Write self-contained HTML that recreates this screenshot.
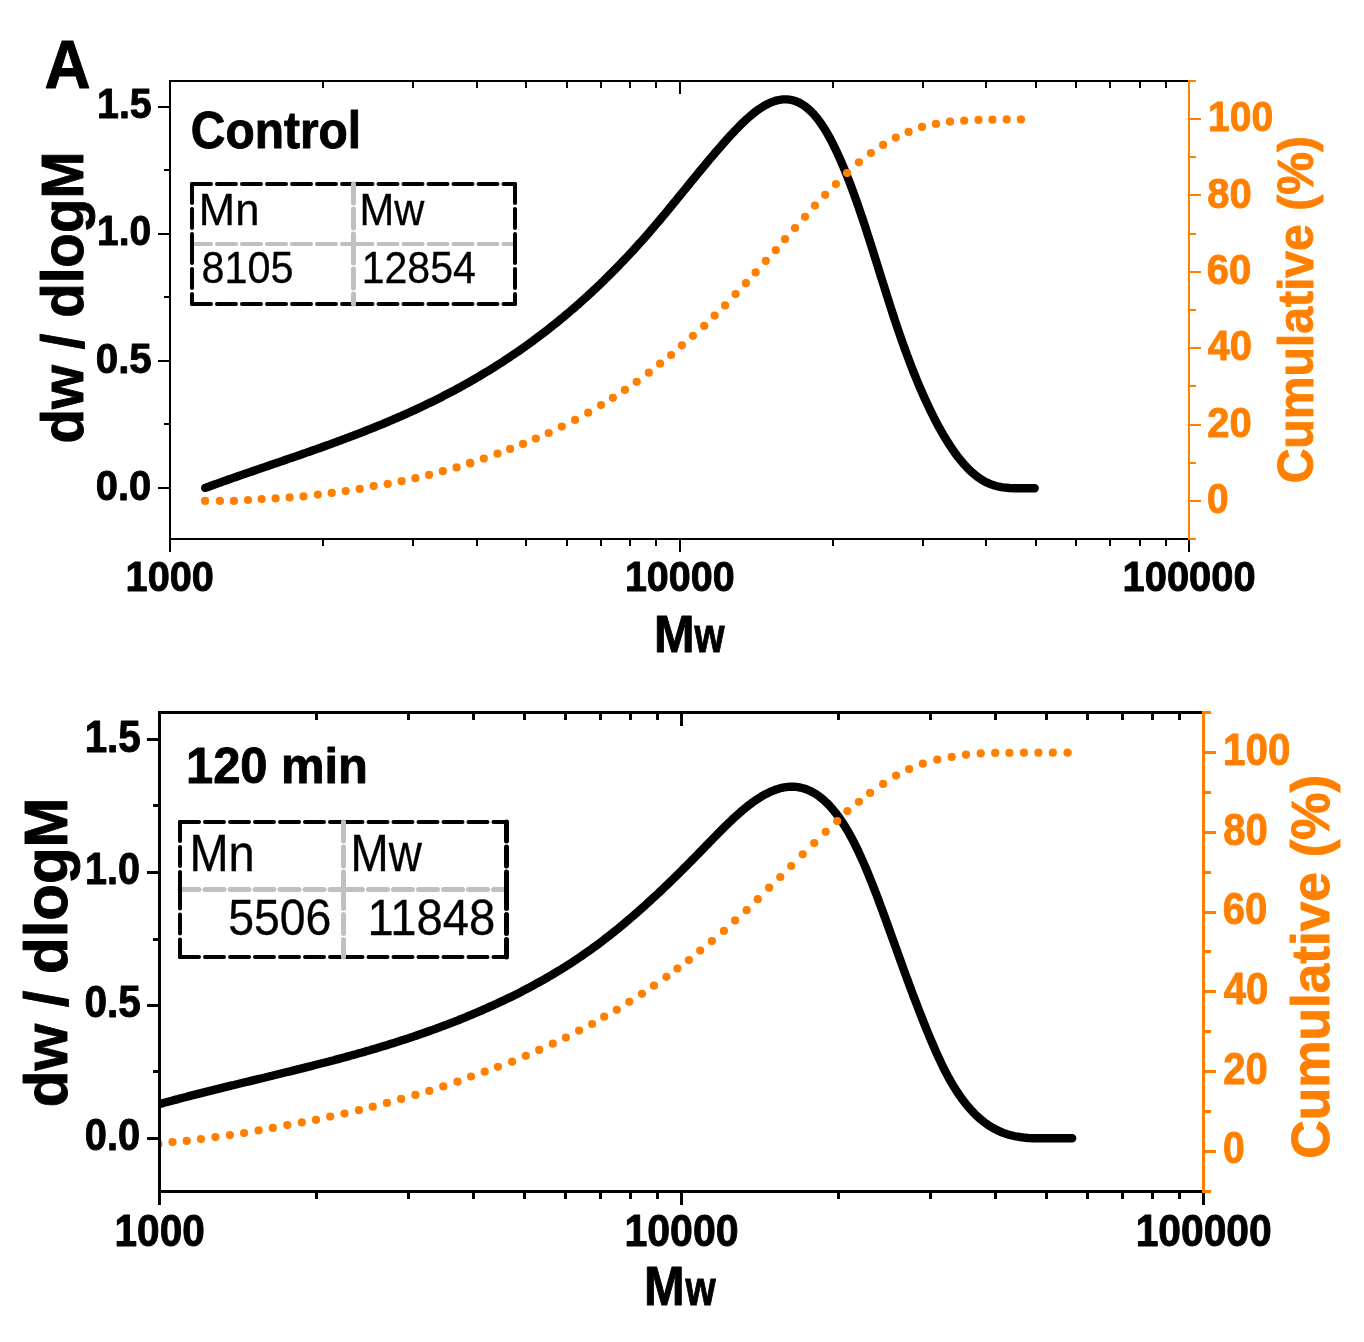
<!DOCTYPE html>
<html><head><meta charset="utf-8"><title>GPC molecular weight distribution</title>
<style>html,body{margin:0;padding:0;background:#fff}svg{display:block}text{font-family:"Liberation Sans",Arial,Helvetica,sans-serif;font-size:100px}</style></head><body>
<svg width="1364" height="1342" viewBox="0 0 1364 1342">
<rect width="1364" height="1342" fill="#fff"/>
<clipPath id="tc"><rect x="170" y="81" width="1019" height="458"/></clipPath>
<g clip-path="url(#tc)">
<path d="M205.2,487.9 L207.2,487.2 L209.2,486.5 L211.2,485.7 L213.2,485.0 L215.2,484.3 L217.2,483.6 L219.2,482.9 L221.2,482.2 L223.2,481.4 L225.2,480.7 L227.2,480.0 L229.2,479.3 L231.2,478.6 L233.2,477.9 L235.2,477.2 L237.2,476.5 L239.2,475.8 L241.2,475.1 L243.2,474.4 L245.2,473.7 L247.2,473.1 L249.2,472.4 L251.2,471.7 L253.2,471.0 L255.2,470.3 L257.2,469.6 L259.2,468.9 L261.2,468.2 L263.2,467.6 L265.2,466.9 L267.2,466.2 L269.2,465.5 L271.2,464.8 L273.2,464.1 L275.2,463.5 L277.2,462.8 L279.2,462.1 L281.2,461.4 L283.2,460.7 L285.2,460.0 L287.2,459.3 L289.2,458.6 L291.2,458.0 L293.2,457.3 L295.2,456.6 L297.2,455.9 L299.2,455.2 L301.2,454.5 L303.2,453.8 L305.2,453.1 L307.2,452.4 L309.2,451.7 L311.2,451.0 L313.2,450.3 L315.2,449.6 L317.2,448.9 L319.2,448.2 L321.2,447.5 L323.2,446.7 L325.2,446.0 L327.2,445.3 L329.2,444.6 L331.2,443.9 L333.2,443.1 L335.2,442.4 L337.2,441.7 L339.2,440.9 L341.2,440.2 L343.2,439.4 L345.2,438.7 L347.2,437.9 L349.2,437.2 L351.2,436.4 L353.2,435.7 L355.2,434.9 L357.2,434.1 L359.2,433.4 L361.2,432.6 L363.2,431.8 L365.2,431.0 L367.2,430.2 L369.2,429.4 L371.2,428.6 L373.2,427.8 L375.2,427.0 L377.2,426.2 L379.2,425.4 L381.2,424.6 L383.2,423.8 L385.2,422.9 L387.2,422.1 L389.2,421.2 L391.2,420.4 L393.2,419.5 L395.2,418.7 L397.2,417.8 L399.2,416.9 L401.2,416.1 L403.2,415.2 L405.2,414.3 L407.2,413.4 L409.2,412.5 L411.2,411.6 L413.2,410.7 L415.2,409.8 L417.2,408.8 L419.2,407.9 L421.2,407.0 L423.2,406.0 L425.2,405.1 L427.2,404.1 L429.2,403.1 L431.2,402.2 L433.2,401.2 L435.2,400.2 L437.2,399.2 L439.2,398.2 L441.2,397.2 L443.2,396.1 L445.2,395.1 L447.2,394.1 L449.2,393.0 L451.2,392.0 L453.2,390.9 L455.2,389.9 L457.2,388.8 L459.2,387.7 L461.2,386.6 L463.2,385.5 L465.2,384.4 L467.2,383.3 L469.2,382.1 L471.2,381.0 L473.2,379.8 L475.2,378.7 L477.2,377.5 L479.2,376.3 L481.2,375.1 L483.2,373.9 L485.2,372.7 L487.2,371.5 L489.2,370.3 L491.2,369.1 L493.2,367.8 L495.2,366.6 L497.2,365.3 L499.2,364.0 L501.2,362.7 L503.2,361.4 L505.2,360.1 L507.2,358.8 L509.2,357.5 L511.2,356.1 L513.2,354.8 L515.2,353.4 L517.2,352.1 L519.2,350.7 L521.2,349.3 L523.2,347.9 L525.2,346.5 L527.2,345.0 L529.2,343.6 L531.2,342.1 L533.2,340.7 L535.2,339.2 L537.2,337.7 L539.2,336.2 L541.2,334.7 L543.2,333.2 L545.2,331.6 L547.2,330.1 L549.2,328.5 L551.2,326.9 L553.2,325.3 L555.2,323.7 L557.2,322.1 L559.2,320.5 L561.2,318.8 L563.2,317.2 L565.2,315.5 L567.2,313.8 L569.2,312.1 L571.2,310.4 L573.2,308.7 L575.2,307.0 L577.2,305.2 L579.2,303.5 L581.2,301.7 L583.2,299.9 L585.2,298.1 L587.2,296.3 L589.2,294.4 L591.2,292.6 L593.2,290.7 L595.2,288.9 L597.2,287.0 L599.2,285.1 L601.2,283.1 L603.2,281.2 L605.2,279.2 L607.2,277.3 L609.2,275.3 L611.2,273.3 L613.2,271.3 L615.2,269.3 L617.2,267.2 L619.2,265.2 L621.2,263.1 L623.2,261.0 L625.2,258.9 L627.2,256.8 L629.2,254.7 L631.2,252.5 L633.2,250.3 L635.2,248.1 L637.2,245.9 L639.2,243.7 L641.2,241.5 L643.2,239.3 L645.2,237.0 L647.2,234.7 L649.2,232.4 L651.2,230.1 L653.2,227.8 L655.2,225.4 L657.2,223.1 L659.2,220.7 L661.2,218.3 L663.2,215.9 L665.2,213.5 L667.2,211.1 L669.2,208.6 L671.2,206.2 L673.2,203.8 L675.2,201.3 L677.2,198.9 L679.2,196.4 L681.2,194.0 L683.2,191.5 L685.2,189.1 L687.2,186.6 L689.2,184.2 L691.2,181.7 L693.2,179.3 L695.2,176.8 L697.2,174.4 L699.2,171.9 L701.2,169.5 L703.2,167.1 L705.2,164.7 L707.2,162.3 L709.2,159.9 L711.2,157.5 L713.2,155.2 L715.2,152.8 L717.2,150.5 L719.2,148.2 L721.2,145.9 L723.2,143.6 L725.2,141.4 L727.2,139.1 L729.2,136.9 L731.2,134.7 L733.2,132.6 L735.2,130.4 L737.2,128.4 L739.2,126.3 L741.2,124.3 L743.2,122.4 L745.2,120.5 L747.2,118.6 L749.2,116.9 L751.2,115.2 L753.2,113.5 L755.2,111.9 L757.2,110.4 L759.2,109.0 L761.2,107.7 L763.2,106.4 L765.2,105.3 L767.2,104.2 L769.2,103.2 L771.2,102.4 L773.2,101.6 L775.2,100.9 L777.2,100.4 L779.2,100.0 L781.2,99.6 L783.2,99.4 L785.2,99.4 L787.2,99.4 L789.2,99.6 L791.2,100.0 L793.2,100.4 L795.2,101.0 L797.2,101.8 L799.2,102.7 L801.2,103.8 L803.2,105.0 L805.2,106.4 L807.2,108.0 L809.2,109.7 L811.2,111.6 L813.2,113.6 L815.2,115.9 L817.2,118.3 L819.2,121.0 L821.2,123.8 L823.2,126.8 L825.2,130.0 L827.2,133.3 L829.2,136.9 L831.2,140.6 L833.2,144.5 L835.2,148.6 L837.2,152.8 L839.2,157.2 L841.2,161.7 L843.2,166.4 L845.2,171.2 L847.2,176.2 L849.2,181.3 L851.2,186.6 L853.2,192.0 L855.2,197.5 L857.2,203.1 L859.2,208.9 L861.2,214.8 L863.2,220.7 L865.2,226.8 L867.2,233.0 L869.2,239.2 L871.2,245.5 L873.2,251.8 L875.2,258.2 L877.2,264.6 L879.2,271.0 L881.2,277.4 L883.2,283.7 L885.2,290.1 L887.2,296.4 L889.2,302.7 L891.2,309.0 L893.2,315.1 L895.2,321.2 L897.2,327.2 L899.2,333.0 L901.2,338.8 L903.2,344.4 L905.2,350.0 L907.2,355.4 L909.2,360.8 L911.2,366.0 L913.2,371.1 L915.2,376.1 L917.2,381.0 L919.2,385.8 L921.2,390.5 L923.2,395.0 L925.2,399.5 L927.2,403.8 L929.2,408.1 L931.2,412.2 L933.2,416.2 L935.2,420.2 L937.2,424.0 L939.2,427.7 L941.2,431.2 L943.2,434.7 L945.2,438.1 L947.2,441.3 L949.2,444.4 L951.2,447.5 L953.2,450.4 L955.2,453.2 L957.2,455.9 L959.2,458.5 L961.2,460.9 L963.2,463.3 L965.2,465.5 L967.2,467.7 L969.2,469.7 L971.2,471.6 L973.2,473.4 L975.2,475.0 L977.2,476.6 L979.2,478.1 L981.2,479.4 L983.2,480.6 L985.2,481.7 L987.2,482.7 L989.2,483.6 L991.2,484.4 L993.2,485.1 L995.2,485.7 L997.2,486.2 L999.2,486.7 L1001.2,487.1 L1003.2,487.4 L1005.2,487.6 L1007.2,487.8 L1009.2,488.0 L1011.2,488.1 L1013.2,488.2 L1015.2,488.2 L1017.2,488.2 L1019.2,488.2 L1021.2,488.2 L1023.2,488.2 L1025.2,488.2 L1027.2,488.2 L1029.2,488.2 L1031.2,488.2 L1033.2,488.2 L1034.7,488.2" fill="none" stroke="#000" stroke-width="8.4" stroke-linecap="round" stroke-linejoin="round"/>
<circle cx="205.1" cy="500.9" r="4.1" fill="#FF8000"/>
<circle cx="219.9" cy="500.9" r="4.1" fill="#FF8000"/>
<circle cx="233.9" cy="500.9" r="4.1" fill="#FF8000"/>
<circle cx="248.0" cy="500.0" r="4.1" fill="#FF8000"/>
<circle cx="261.6" cy="499.1" r="4.1" fill="#FF8000"/>
<circle cx="275.6" cy="498.4" r="4.1" fill="#FF8000"/>
<circle cx="289.6" cy="497.4" r="4.1" fill="#FF8000"/>
<circle cx="303.5" cy="496.4" r="4.1" fill="#FF8000"/>
<circle cx="317.8" cy="494.6" r="4.1" fill="#FF8000"/>
<circle cx="331.7" cy="492.9" r="4.1" fill="#FF8000"/>
<circle cx="345.7" cy="491.1" r="4.1" fill="#FF8000"/>
<circle cx="359.7" cy="488.9" r="4.1" fill="#FF8000"/>
<circle cx="373.7" cy="486.1" r="4.1" fill="#FF8000"/>
<circle cx="387.7" cy="483.9" r="4.1" fill="#FF8000"/>
<circle cx="401.6" cy="481.2" r="4.1" fill="#FF8000"/>
<circle cx="415.4" cy="478.2" r="4.1" fill="#FF8000"/>
<circle cx="429.1" cy="474.9" r="4.1" fill="#FF8000"/>
<circle cx="442.8" cy="471.2" r="4.1" fill="#FF8000"/>
<circle cx="456.6" cy="467.4" r="4.1" fill="#FF8000"/>
<circle cx="470.3" cy="463.4" r="4.1" fill="#FF8000"/>
<circle cx="470.0" cy="462.9" r="4.1" fill="#FF8000"/>
<circle cx="483.8" cy="458.6" r="4.1" fill="#FF8000"/>
<circle cx="497.5" cy="453.7" r="4.1" fill="#FF8000"/>
<circle cx="510.1" cy="448.9" r="4.1" fill="#FF8000"/>
<circle cx="523.0" cy="443.9" r="4.1" fill="#FF8000"/>
<circle cx="535.8" cy="438.5" r="4.1" fill="#FF8000"/>
<circle cx="548.7" cy="433.0" r="4.1" fill="#FF8000"/>
<circle cx="561.8" cy="426.6" r="4.1" fill="#FF8000"/>
<circle cx="575.1" cy="419.9" r="4.1" fill="#FF8000"/>
<circle cx="588.2" cy="412.7" r="4.1" fill="#FF8000"/>
<circle cx="601.0" cy="405.1" r="4.1" fill="#FF8000"/>
<circle cx="612.9" cy="397.8" r="4.1" fill="#FF8000"/>
<circle cx="624.9" cy="389.9" r="4.1" fill="#FF8000"/>
<circle cx="636.7" cy="381.8" r="4.1" fill="#FF8000"/>
<circle cx="648.8" cy="372.7" r="4.1" fill="#FF8000"/>
<circle cx="660.1" cy="363.7" r="4.1" fill="#FF8000"/>
<circle cx="671.1" cy="355.0" r="4.1" fill="#FF8000"/>
<circle cx="681.9" cy="345.3" r="4.1" fill="#FF8000"/>
<circle cx="692.9" cy="335.8" r="4.1" fill="#FF8000"/>
<circle cx="704.2" cy="325.9" r="4.1" fill="#FF8000"/>
<circle cx="714.6" cy="315.6" r="4.1" fill="#FF8000"/>
<circle cx="725.1" cy="305.4" r="4.1" fill="#FF8000"/>
<circle cx="735.6" cy="294.1" r="4.1" fill="#FF8000"/>
<circle cx="745.9" cy="283.2" r="4.1" fill="#FF8000"/>
<circle cx="755.6" cy="272.4" r="4.1" fill="#FF8000"/>
<circle cx="765.8" cy="260.9" r="4.1" fill="#FF8000"/>
<circle cx="775.8" cy="250.2" r="4.1" fill="#FF8000"/>
<circle cx="785.0" cy="239.2" r="4.1" fill="#FF8000"/>
<circle cx="795.0" cy="228.0" r="4.1" fill="#FF8000"/>
<circle cx="805.0" cy="216.8" r="4.1" fill="#FF8000"/>
<circle cx="814.9" cy="205.5" r="4.1" fill="#FF8000"/>
<circle cx="825.2" cy="194.8" r="4.1" fill="#FF8000"/>
<circle cx="835.9" cy="184.1" r="4.1" fill="#FF8000"/>
<circle cx="847.1" cy="173.1" r="4.1" fill="#FF8000"/>
<circle cx="858.9" cy="162.3" r="4.1" fill="#FF8000"/>
<circle cx="870.9" cy="153.1" r="4.1" fill="#FF8000"/>
<circle cx="883.1" cy="144.9" r="4.1" fill="#FF8000"/>
<circle cx="895.8" cy="137.6" r="4.1" fill="#FF8000"/>
<circle cx="908.6" cy="131.9" r="4.1" fill="#FF8000"/>
<circle cx="922.0" cy="126.9" r="4.1" fill="#FF8000"/>
<circle cx="936.0" cy="123.9" r="4.1" fill="#FF8000"/>
<circle cx="950.0" cy="121.7" r="4.1" fill="#FF8000"/>
<circle cx="964.2" cy="120.7" r="4.1" fill="#FF8000"/>
<circle cx="978.5" cy="119.9" r="4.1" fill="#FF8000"/>
<circle cx="992.4" cy="119.7" r="4.1" fill="#FF8000"/>
<circle cx="1006.7" cy="119.4" r="4.1" fill="#FF8000"/>
<circle cx="1020.9" cy="119.4" r="4.1" fill="#FF8000"/>
</g>
<g shape-rendering="crispEdges">
<rect x="169" y="80" width="2" height="472" fill="#000"/>
<rect x="169" y="80" width="1020" height="2" fill="#000"/>
<rect x="169" y="538" width="1020" height="2" fill="#000"/>
<rect x="322" y="82" width="2" height="6" fill="#000"/>
<rect x="322" y="540" width="2" height="6" fill="#000"/>
<rect x="412" y="82" width="2" height="6" fill="#000"/>
<rect x="412" y="540" width="2" height="6" fill="#000"/>
<rect x="476" y="82" width="2" height="6" fill="#000"/>
<rect x="476" y="540" width="2" height="6" fill="#000"/>
<rect x="525" y="82" width="2" height="6" fill="#000"/>
<rect x="525" y="540" width="2" height="6" fill="#000"/>
<rect x="566" y="82" width="2" height="6" fill="#000"/>
<rect x="566" y="540" width="2" height="6" fill="#000"/>
<rect x="600" y="82" width="2" height="6" fill="#000"/>
<rect x="600" y="540" width="2" height="6" fill="#000"/>
<rect x="629" y="82" width="2" height="6" fill="#000"/>
<rect x="629" y="540" width="2" height="6" fill="#000"/>
<rect x="655" y="82" width="2" height="6" fill="#000"/>
<rect x="655" y="540" width="2" height="6" fill="#000"/>
<rect x="679" y="82" width="2" height="12" fill="#000"/>
<rect x="679" y="540" width="2" height="12" fill="#000"/>
<rect x="832" y="82" width="2" height="6" fill="#000"/>
<rect x="832" y="540" width="2" height="6" fill="#000"/>
<rect x="922" y="82" width="2" height="6" fill="#000"/>
<rect x="922" y="540" width="2" height="6" fill="#000"/>
<rect x="985" y="82" width="2" height="6" fill="#000"/>
<rect x="985" y="540" width="2" height="6" fill="#000"/>
<rect x="1035" y="82" width="2" height="6" fill="#000"/>
<rect x="1035" y="540" width="2" height="6" fill="#000"/>
<rect x="1075" y="82" width="2" height="6" fill="#000"/>
<rect x="1075" y="540" width="2" height="6" fill="#000"/>
<rect x="1109" y="82" width="2" height="6" fill="#000"/>
<rect x="1109" y="540" width="2" height="6" fill="#000"/>
<rect x="1139" y="82" width="2" height="6" fill="#000"/>
<rect x="1139" y="540" width="2" height="6" fill="#000"/>
<rect x="1165" y="82" width="2" height="6" fill="#000"/>
<rect x="1165" y="540" width="2" height="6" fill="#000"/>
<rect x="158" y="487" width="11" height="2" fill="#000"/>
<rect x="164" y="423" width="5" height="2" fill="#000"/>
<rect x="158" y="360" width="11" height="2" fill="#000"/>
<rect x="164" y="296" width="5" height="2" fill="#000"/>
<rect x="158" y="233" width="11" height="2" fill="#000"/>
<rect x="164" y="169" width="5" height="2" fill="#000"/>
<rect x="158" y="106" width="11" height="2" fill="#000"/>
<rect x="1188" y="80" width="2" height="460" fill="#FF8000"/>
<rect x="1190" y="538" width="6" height="2" fill="#FF8000"/>
<rect x="1190" y="500" width="11" height="2" fill="#FF8000"/>
<rect x="1190" y="462" width="6" height="2" fill="#FF8000"/>
<rect x="1190" y="424" width="11" height="2" fill="#FF8000"/>
<rect x="1190" y="385" width="6" height="2" fill="#FF8000"/>
<rect x="1190" y="347" width="11" height="2" fill="#FF8000"/>
<rect x="1190" y="309" width="6" height="2" fill="#FF8000"/>
<rect x="1190" y="271" width="11" height="2" fill="#FF8000"/>
<rect x="1190" y="233" width="6" height="2" fill="#FF8000"/>
<rect x="1190" y="194" width="11" height="2" fill="#FF8000"/>
<rect x="1190" y="156" width="6" height="2" fill="#FF8000"/>
<rect x="1190" y="118" width="11" height="2" fill="#FF8000"/>
<rect x="1190" y="80" width="6" height="2" fill="#FF8000"/>
<rect x="1188" y="540" width="2" height="12" fill="#000"/>
</g>
<g fill="none" stroke-dasharray="19 6" stroke-linecap="round">
<path d="M192,244 H353.5 M353.5,244 H515" stroke="#C0C0C0" stroke-width="4"/>
<path d="M192,184 H353.5 M353.5,184 H515" stroke="#000" stroke-width="4"/>
<path d="M192,304 H353.5 M353.5,304 H515" stroke="#000" stroke-width="4"/>
<path d="M192,184 V244 M192,244 V304" stroke="#000" stroke-width="4"/>
<path d="M515,184 V244 M515,244 V304" stroke="#000" stroke-width="4"/>
<path d="M353.5,184 V244 M353.5,244 V304" stroke="#C0C0C0" stroke-width="5"/>
</g>
<clipPath id="bc"><rect x="159.5" y="712.5" width="1044.0" height="479.0"/></clipPath>
<g clip-path="url(#bc)">
<path d="M150.0,1106.7 L152.0,1106.1 L154.0,1105.6 L156.0,1105.0 L158.0,1104.5 L160.0,1103.9 L162.0,1103.4 L164.0,1102.8 L166.0,1102.3 L168.0,1101.7 L170.0,1101.2 L172.0,1100.7 L174.0,1100.1 L176.0,1099.6 L178.0,1099.1 L180.0,1098.5 L182.0,1098.0 L184.0,1097.5 L186.0,1097.0 L188.0,1096.4 L190.0,1095.9 L192.0,1095.4 L194.0,1094.9 L196.0,1094.4 L198.0,1093.9 L200.0,1093.4 L202.0,1092.9 L204.0,1092.4 L206.0,1091.9 L208.0,1091.4 L210.0,1090.9 L212.0,1090.4 L214.0,1089.9 L216.0,1089.4 L218.0,1088.9 L220.0,1088.4 L222.0,1087.9 L224.0,1087.4 L226.0,1086.9 L228.0,1086.4 L230.0,1085.9 L232.0,1085.4 L234.0,1085.0 L236.0,1084.5 L238.0,1084.0 L240.0,1083.5 L242.0,1083.0 L244.0,1082.5 L246.0,1082.0 L248.0,1081.6 L250.0,1081.1 L252.0,1080.6 L254.0,1080.1 L256.0,1079.6 L258.0,1079.1 L260.0,1078.7 L262.0,1078.2 L264.0,1077.7 L266.0,1077.2 L268.0,1076.7 L270.0,1076.2 L272.0,1075.8 L274.0,1075.3 L276.0,1074.8 L278.0,1074.3 L280.0,1073.8 L282.0,1073.3 L284.0,1072.8 L286.0,1072.3 L288.0,1071.8 L290.0,1071.4 L292.0,1070.9 L294.0,1070.4 L296.0,1069.9 L298.0,1069.4 L300.0,1068.9 L302.0,1068.4 L304.0,1067.9 L306.0,1067.4 L308.0,1066.9 L310.0,1066.4 L312.0,1065.9 L314.0,1065.3 L316.0,1064.8 L318.0,1064.3 L320.0,1063.8 L322.0,1063.3 L324.0,1062.8 L326.0,1062.3 L328.0,1061.7 L330.0,1061.2 L332.0,1060.7 L334.0,1060.2 L336.0,1059.6 L338.0,1059.1 L340.0,1058.6 L342.0,1058.0 L344.0,1057.5 L346.0,1056.9 L348.0,1056.4 L350.0,1055.8 L352.0,1055.3 L354.0,1054.7 L356.0,1054.2 L358.0,1053.6 L360.0,1053.0 L362.0,1052.5 L364.0,1051.9 L366.0,1051.3 L368.0,1050.7 L370.0,1050.2 L372.0,1049.6 L374.0,1049.0 L376.0,1048.4 L378.0,1047.8 L380.0,1047.2 L382.0,1046.6 L384.0,1046.0 L386.0,1045.4 L388.0,1044.8 L390.0,1044.1 L392.0,1043.5 L394.0,1042.9 L396.0,1042.3 L398.0,1041.6 L400.0,1041.0 L402.0,1040.3 L404.0,1039.7 L406.0,1039.0 L408.0,1038.4 L410.0,1037.7 L412.0,1037.1 L414.0,1036.4 L416.0,1035.7 L418.0,1035.0 L420.0,1034.3 L422.0,1033.6 L424.0,1033.0 L426.0,1032.2 L428.0,1031.5 L430.0,1030.8 L432.0,1030.1 L434.0,1029.4 L436.0,1028.7 L438.0,1027.9 L440.0,1027.2 L442.0,1026.4 L444.0,1025.7 L446.0,1024.9 L448.0,1024.2 L450.0,1023.4 L452.0,1022.6 L454.0,1021.9 L456.0,1021.1 L458.0,1020.3 L460.0,1019.5 L462.0,1018.7 L464.0,1017.9 L466.0,1017.1 L468.0,1016.2 L470.0,1015.4 L472.0,1014.6 L474.0,1013.7 L476.0,1012.9 L478.0,1012.0 L480.0,1011.2 L482.0,1010.3 L484.0,1009.4 L486.0,1008.5 L488.0,1007.6 L490.0,1006.7 L492.0,1005.8 L494.0,1004.9 L496.0,1004.0 L498.0,1003.1 L500.0,1002.1 L502.0,1001.2 L504.0,1000.3 L506.0,999.3 L508.0,998.3 L510.0,997.4 L512.0,996.4 L514.0,995.4 L516.0,994.4 L518.0,993.4 L520.0,992.4 L522.0,991.4 L524.0,990.3 L526.0,989.3 L528.0,988.2 L530.0,987.2 L532.0,986.1 L534.0,985.0 L536.0,983.9 L538.0,982.8 L540.0,981.7 L542.0,980.6 L544.0,979.5 L546.0,978.3 L548.0,977.2 L550.0,976.0 L552.0,974.8 L554.0,973.6 L556.0,972.4 L558.0,971.2 L560.0,970.0 L562.0,968.8 L564.0,967.5 L566.0,966.3 L568.0,965.0 L570.0,963.7 L572.0,962.4 L574.0,961.1 L576.0,959.8 L578.0,958.4 L580.0,957.1 L582.0,955.7 L584.0,954.3 L586.0,952.9 L588.0,951.5 L590.0,950.1 L592.0,948.7 L594.0,947.2 L596.0,945.8 L598.0,944.3 L600.0,942.8 L602.0,941.3 L604.0,939.7 L606.0,938.2 L608.0,936.7 L610.0,935.1 L612.0,933.5 L614.0,931.9 L616.0,930.3 L618.0,928.7 L620.0,927.0 L622.0,925.4 L624.0,923.7 L626.0,922.0 L628.0,920.3 L630.0,918.6 L632.0,916.9 L634.0,915.2 L636.0,913.4 L638.0,911.7 L640.0,909.9 L642.0,908.1 L644.0,906.3 L646.0,904.5 L648.0,902.7 L650.0,900.9 L652.0,899.0 L654.0,897.2 L656.0,895.3 L658.0,893.5 L660.0,891.6 L662.0,889.7 L664.0,887.8 L666.0,885.9 L668.0,884.0 L670.0,882.0 L672.0,880.1 L674.0,878.1 L676.0,876.2 L678.0,874.2 L680.0,872.2 L682.0,870.3 L684.0,868.3 L686.0,866.3 L688.0,864.3 L690.0,862.2 L692.0,860.2 L694.0,858.2 L696.0,856.1 L698.0,854.1 L700.0,852.0 L702.0,850.0 L704.0,847.9 L706.0,845.8 L708.0,843.8 L710.0,841.7 L712.0,839.7 L714.0,837.6 L716.0,835.6 L718.0,833.5 L720.0,831.5 L722.0,829.5 L724.0,827.5 L726.0,825.5 L728.0,823.6 L730.0,821.7 L732.0,819.8 L734.0,817.9 L736.0,816.1 L738.0,814.3 L740.0,812.5 L742.0,810.8 L744.0,809.1 L746.0,807.5 L748.0,805.9 L750.0,804.3 L752.0,802.8 L754.0,801.4 L756.0,800.0 L758.0,798.7 L760.0,797.4 L762.0,796.2 L764.0,795.0 L766.0,793.9 L768.0,792.9 L770.0,791.9 L772.0,791.1 L774.0,790.3 L776.0,789.5 L778.0,788.9 L780.0,788.3 L782.0,787.8 L784.0,787.4 L786.0,787.1 L788.0,786.9 L790.0,786.8 L792.0,786.7 L794.0,786.8 L796.0,786.9 L798.0,787.2 L800.0,787.5 L802.0,788.0 L804.0,788.5 L806.0,789.2 L808.0,790.0 L810.0,790.9 L812.0,791.8 L814.0,793.0 L816.0,794.2 L818.0,795.5 L820.0,797.0 L822.0,798.6 L824.0,800.3 L826.0,802.2 L828.0,804.1 L830.0,806.2 L832.0,808.5 L834.0,810.9 L836.0,813.4 L838.0,816.0 L840.0,818.8 L842.0,821.8 L844.0,824.8 L846.0,828.1 L848.0,831.4 L850.0,835.0 L852.0,838.6 L854.0,842.5 L856.0,846.5 L858.0,850.6 L860.0,854.9 L862.0,859.4 L864.0,863.9 L866.0,868.6 L868.0,873.4 L870.0,878.3 L872.0,883.3 L874.0,888.4 L876.0,893.6 L878.0,898.8 L880.0,904.2 L882.0,909.5 L884.0,915.0 L886.0,920.5 L888.0,926.0 L890.0,931.5 L892.0,937.1 L894.0,942.6 L896.0,948.2 L898.0,953.8 L900.0,959.3 L902.0,964.9 L904.0,970.4 L906.0,975.9 L908.0,981.3 L910.0,986.7 L912.0,992.1 L914.0,997.4 L916.0,1002.6 L918.0,1007.8 L920.0,1013.0 L922.0,1018.1 L924.0,1023.1 L926.0,1028.1 L928.0,1033.0 L930.0,1037.8 L932.0,1042.5 L934.0,1047.2 L936.0,1051.8 L938.0,1056.2 L940.0,1060.6 L942.0,1064.8 L944.0,1068.8 L946.0,1072.7 L948.0,1076.5 L950.0,1080.1 L952.0,1083.6 L954.0,1086.9 L956.0,1090.1 L958.0,1093.1 L960.0,1096.1 L962.0,1098.9 L964.0,1101.5 L966.0,1104.1 L968.0,1106.5 L970.0,1108.8 L972.0,1111.0 L974.0,1113.1 L976.0,1115.1 L978.0,1117.0 L980.0,1118.7 L982.0,1120.4 L984.0,1122.0 L986.0,1123.5 L988.0,1124.9 L990.0,1126.2 L992.0,1127.4 L994.0,1128.5 L996.0,1129.6 L998.0,1130.6 L1000.0,1131.5 L1002.0,1132.3 L1004.0,1133.1 L1006.0,1133.8 L1008.0,1134.4 L1010.0,1135.0 L1012.0,1135.5 L1014.0,1136.0 L1016.0,1136.4 L1018.0,1136.7 L1020.0,1137.1 L1022.0,1137.3 L1024.0,1137.6 L1026.0,1137.8 L1028.0,1138.0 L1030.0,1138.1 L1032.0,1138.2 L1034.0,1138.3 L1036.0,1138.3 L1038.0,1138.3 L1040.0,1138.3 L1042.0,1138.3 L1044.0,1138.3 L1046.0,1138.3 L1048.0,1138.3 L1050.0,1138.3 L1052.0,1138.3 L1054.0,1138.3 L1056.0,1138.3 L1058.0,1138.3 L1060.0,1138.3 L1062.0,1138.3 L1064.0,1138.3 L1066.0,1138.3 L1068.0,1138.3 L1070.0,1138.3 L1072.0,1138.3 L1072.2,1138.3" fill="none" stroke="#000" stroke-width="8.4" stroke-linecap="round" stroke-linejoin="round"/>
<circle cx="158.5" cy="1144.0" r="4.1" fill="#FF8000"/>
<circle cx="172.5" cy="1142.1" r="4.1" fill="#FF8000"/>
<circle cx="186.7" cy="1140.9" r="4.1" fill="#FF8000"/>
<circle cx="200.9" cy="1139.1" r="4.1" fill="#FF8000"/>
<circle cx="215.4" cy="1137.1" r="4.1" fill="#FF8000"/>
<circle cx="229.9" cy="1135.1" r="4.1" fill="#FF8000"/>
<circle cx="244.1" cy="1133.1" r="4.1" fill="#FF8000"/>
<circle cx="258.6" cy="1130.4" r="4.1" fill="#FF8000"/>
<circle cx="272.8" cy="1127.9" r="4.1" fill="#FF8000"/>
<circle cx="287.3" cy="1125.1" r="4.1" fill="#FF8000"/>
<circle cx="301.8" cy="1122.4" r="4.1" fill="#FF8000"/>
<circle cx="316.0" cy="1119.9" r="4.1" fill="#FF8000"/>
<circle cx="330.2" cy="1116.6" r="4.1" fill="#FF8000"/>
<circle cx="344.5" cy="1113.6" r="4.1" fill="#FF8000"/>
<circle cx="358.9" cy="1110.2" r="4.1" fill="#FF8000"/>
<circle cx="372.7" cy="1106.7" r="4.1" fill="#FF8000"/>
<circle cx="386.9" cy="1102.9" r="4.1" fill="#FF8000"/>
<circle cx="401.1" cy="1098.9" r="4.1" fill="#FF8000"/>
<circle cx="415.4" cy="1094.9" r="4.1" fill="#FF8000"/>
<circle cx="429.3" cy="1090.9" r="4.1" fill="#FF8000"/>
<circle cx="443.3" cy="1086.4" r="4.1" fill="#FF8000"/>
<circle cx="457.5" cy="1081.7" r="4.1" fill="#FF8000"/>
<circle cx="471.0" cy="1076.5" r="4.1" fill="#FF8000"/>
<circle cx="484.7" cy="1071.7" r="4.1" fill="#FF8000"/>
<circle cx="498.0" cy="1066.8" r="4.1" fill="#FF8000"/>
<circle cx="512.1" cy="1061.7" r="4.1" fill="#FF8000"/>
<circle cx="525.8" cy="1055.8" r="4.1" fill="#FF8000"/>
<circle cx="539.2" cy="1049.9" r="4.1" fill="#FF8000"/>
<circle cx="552.8" cy="1043.7" r="4.1" fill="#FF8000"/>
<circle cx="565.9" cy="1037.6" r="4.1" fill="#FF8000"/>
<circle cx="579.1" cy="1030.6" r="4.1" fill="#FF8000"/>
<circle cx="592.1" cy="1024.0" r="4.1" fill="#FF8000"/>
<circle cx="604.2" cy="1016.7" r="4.1" fill="#FF8000"/>
<circle cx="616.8" cy="1009.8" r="4.1" fill="#FF8000"/>
<circle cx="629.3" cy="1001.8" r="4.1" fill="#FF8000"/>
<circle cx="642.0" cy="993.8" r="4.1" fill="#FF8000"/>
<circle cx="654.0" cy="985.7" r="4.1" fill="#FF8000"/>
<circle cx="666.4" cy="976.8" r="4.1" fill="#FF8000"/>
<circle cx="677.4" cy="968.5" r="4.1" fill="#FF8000"/>
<circle cx="688.9" cy="960.1" r="4.1" fill="#FF8000"/>
<circle cx="700.2" cy="950.6" r="4.1" fill="#FF8000"/>
<circle cx="711.9" cy="941.1" r="4.1" fill="#FF8000"/>
<circle cx="723.9" cy="930.9" r="4.1" fill="#FF8000"/>
<circle cx="735.1" cy="920.4" r="4.1" fill="#FF8000"/>
<circle cx="746.6" cy="910.2" r="4.1" fill="#FF8000"/>
<circle cx="757.8" cy="899.2" r="4.1" fill="#FF8000"/>
<circle cx="769.1" cy="887.7" r="4.1" fill="#FF8000"/>
<circle cx="780.3" cy="877.0" r="4.1" fill="#FF8000"/>
<circle cx="791.2" cy="866.0" r="4.1" fill="#FF8000"/>
<circle cx="802.7" cy="854.3" r="4.1" fill="#FF8000"/>
<circle cx="814.2" cy="843.0" r="4.1" fill="#FF8000"/>
<circle cx="825.7" cy="831.8" r="4.1" fill="#FF8000"/>
<circle cx="837.2" cy="821.1" r="4.1" fill="#FF8000"/>
<circle cx="847.4" cy="811.1" r="4.1" fill="#FF8000"/>
<circle cx="858.9" cy="801.8" r="4.1" fill="#FF8000"/>
<circle cx="870.1" cy="792.9" r="4.1" fill="#FF8000"/>
<circle cx="883.1" cy="783.9" r="4.1" fill="#FF8000"/>
<circle cx="896.1" cy="775.6" r="4.1" fill="#FF8000"/>
<circle cx="909.1" cy="769.1" r="4.1" fill="#FF8000"/>
<circle cx="922.8" cy="763.7" r="4.1" fill="#FF8000"/>
<circle cx="937.3" cy="759.7" r="4.1" fill="#FF8000"/>
<circle cx="951.7" cy="756.9" r="4.1" fill="#FF8000"/>
<circle cx="966.0" cy="754.7" r="4.1" fill="#FF8000"/>
<circle cx="980.7" cy="753.4" r="4.1" fill="#FF8000"/>
<circle cx="995.2" cy="752.9" r="4.1" fill="#FF8000"/>
<circle cx="1009.4" cy="752.9" r="4.1" fill="#FF8000"/>
<circle cx="1023.9" cy="752.7" r="4.1" fill="#FF8000"/>
<circle cx="1038.4" cy="752.7" r="4.1" fill="#FF8000"/>
<circle cx="1052.8" cy="752.7" r="4.1" fill="#FF8000"/>
<circle cx="1067.6" cy="752.7" r="4.1" fill="#FF8000"/>
</g>
<g shape-rendering="crispEdges">
<rect x="158" y="711" width="3" height="494" fill="#000"/>
<rect x="158" y="711" width="1045.5" height="3" fill="#000"/>
<rect x="158" y="1190" width="1045.5" height="3" fill="#000"/>
<rect x="315" y="714" width="3" height="6" fill="#000"/>
<rect x="315" y="1193" width="3" height="6" fill="#000"/>
<rect x="407" y="714" width="3" height="6" fill="#000"/>
<rect x="407" y="1193" width="3" height="6" fill="#000"/>
<rect x="472" y="714" width="3" height="6" fill="#000"/>
<rect x="472" y="1193" width="3" height="6" fill="#000"/>
<rect x="523" y="714" width="3" height="6" fill="#000"/>
<rect x="523" y="1193" width="3" height="6" fill="#000"/>
<rect x="564" y="714" width="3" height="6" fill="#000"/>
<rect x="564" y="1193" width="3" height="6" fill="#000"/>
<rect x="599" y="714" width="3" height="6" fill="#000"/>
<rect x="599" y="1193" width="3" height="6" fill="#000"/>
<rect x="629" y="714" width="3" height="6" fill="#000"/>
<rect x="629" y="1193" width="3" height="6" fill="#000"/>
<rect x="656" y="714" width="3" height="6" fill="#000"/>
<rect x="656" y="1193" width="3" height="6" fill="#000"/>
<rect x="680" y="714" width="3" height="12" fill="#000"/>
<rect x="680" y="1193" width="3" height="12" fill="#000"/>
<rect x="837" y="714" width="3" height="6" fill="#000"/>
<rect x="837" y="1193" width="3" height="6" fill="#000"/>
<rect x="929" y="714" width="3" height="6" fill="#000"/>
<rect x="929" y="1193" width="3" height="6" fill="#000"/>
<rect x="994" y="714" width="3" height="6" fill="#000"/>
<rect x="994" y="1193" width="3" height="6" fill="#000"/>
<rect x="1045" y="714" width="3" height="6" fill="#000"/>
<rect x="1045" y="1193" width="3" height="6" fill="#000"/>
<rect x="1086" y="714" width="3" height="6" fill="#000"/>
<rect x="1086" y="1193" width="3" height="6" fill="#000"/>
<rect x="1121" y="714" width="3" height="6" fill="#000"/>
<rect x="1121" y="1193" width="3" height="6" fill="#000"/>
<rect x="1151" y="714" width="3" height="6" fill="#000"/>
<rect x="1151" y="1193" width="3" height="6" fill="#000"/>
<rect x="1178" y="714" width="3" height="6" fill="#000"/>
<rect x="1178" y="1193" width="3" height="6" fill="#000"/>
<rect x="147" y="1137" width="11" height="3" fill="#000"/>
<rect x="153" y="1070" width="5" height="3" fill="#000"/>
<rect x="147" y="1004" width="11" height="3" fill="#000"/>
<rect x="153" y="938" width="5" height="3" fill="#000"/>
<rect x="147" y="871" width="11" height="3" fill="#000"/>
<rect x="153" y="804" width="5" height="3" fill="#000"/>
<rect x="147" y="738" width="11" height="3" fill="#000"/>
<rect x="1202" y="711" width="3" height="482" fill="#FF8000"/>
<rect x="1205" y="1190" width="6" height="3" fill="#FF8000"/>
<rect x="1205" y="1150" width="11" height="3" fill="#FF8000"/>
<rect x="1205" y="1110" width="6" height="3" fill="#FF8000"/>
<rect x="1205" y="1070" width="11" height="3" fill="#FF8000"/>
<rect x="1205" y="1030" width="6" height="3" fill="#FF8000"/>
<rect x="1205" y="990" width="11" height="3" fill="#FF8000"/>
<rect x="1205" y="950" width="6" height="3" fill="#FF8000"/>
<rect x="1205" y="911" width="11" height="3" fill="#FF8000"/>
<rect x="1205" y="871" width="6" height="3" fill="#FF8000"/>
<rect x="1205" y="831" width="11" height="3" fill="#FF8000"/>
<rect x="1205" y="791" width="6" height="3" fill="#FF8000"/>
<rect x="1205" y="751" width="11" height="3" fill="#FF8000"/>
<rect x="1205" y="711" width="6" height="3" fill="#FF8000"/>
<rect x="1202" y="1193" width="3" height="12" fill="#000"/>
</g>
<g fill="none" stroke-dasharray="19 6" stroke-linecap="round">
<path d="M180,889.5 H343.5 M343.5,889.5 H506.5" stroke="#C0C0C0" stroke-width="5"/>
<path d="M180,822 H343.5 M343.5,822 H506.5" stroke="#000" stroke-width="4"/>
<path d="M180,957 H343.5 M343.5,957 H506.5" stroke="#000" stroke-width="4"/>
<path d="M180,822 V889.5 M180,889.5 V957" stroke="#000" stroke-width="4"/>
<path d="M506.5,822 V889.5 M506.5,889.5 V957" stroke="#000" stroke-width="5"/>
<path d="M343.5,822 V889.5 M343.5,889.5 V957" stroke="#C0C0C0" stroke-width="5"/>
</g>
<text transform="translate(44.54,87.64) scale(0.6379,0.6853)" font-weight="bold" fill="#000" stroke="#000" stroke-width="0.9" stroke-linejoin="round" vector-effect="non-scaling-stroke">A</text>
<text transform="translate(96.99,118.12) scale(0.3938,0.4300)" font-weight="bold" fill="#000" stroke="#000" stroke-width="0.9" stroke-linejoin="round" vector-effect="non-scaling-stroke">1.5</text>
<text transform="translate(97.02,245.13) scale(0.3891,0.4239)" font-weight="bold" fill="#000" stroke="#000" stroke-width="0.9" stroke-linejoin="round" vector-effect="non-scaling-stroke">1.0</text>
<text transform="translate(95.74,373.13) scale(0.4030,0.4239)" font-weight="bold" fill="#000" stroke="#000" stroke-width="0.9" stroke-linejoin="round" vector-effect="non-scaling-stroke">0.5</text>
<text transform="translate(95.76,500.13) scale(0.3985,0.4239)" font-weight="bold" fill="#000" stroke="#000" stroke-width="0.9" stroke-linejoin="round" vector-effect="non-scaling-stroke">0.0</text>
<text transform="translate(82.80,443.51) rotate(-90) scale(0.5656,0.5850)" font-weight="bold" fill="#000" stroke="#000" stroke-width="0.9" stroke-linejoin="round" vector-effect="non-scaling-stroke">dw / dlogM</text>
<text transform="translate(190.83,148.14) scale(0.4794,0.5135)" font-weight="bold" fill="#000" stroke="#000" stroke-width="0.9" stroke-linejoin="round" vector-effect="non-scaling-stroke">Control</text>
<text transform="translate(198.86,224.95) scale(0.4363,0.4507)" font-weight="normal" fill="#000" stroke="#000" stroke-width="0.3" stroke-linejoin="round" vector-effect="non-scaling-stroke">Mn</text>
<text transform="translate(359.51,224.95) scale(0.4169,0.4507)" font-weight="normal" fill="#000" stroke="#000" stroke-width="0.3" stroke-linejoin="round" vector-effect="non-scaling-stroke">Mw</text>
<text transform="translate(201.49,283.41) scale(0.4140,0.4352)" font-weight="normal" fill="#000" stroke="#000" stroke-width="0.3" stroke-linejoin="round" vector-effect="non-scaling-stroke">8105</text>
<text transform="translate(361.66,283.41) scale(0.4109,0.4352)" font-weight="normal" fill="#000" stroke="#000" stroke-width="0.3" stroke-linejoin="round" vector-effect="non-scaling-stroke">12854</text>
<text transform="translate(125.57,591.13) scale(0.3972,0.4239)" font-weight="bold" fill="#000" stroke="#000" stroke-width="0.9" stroke-linejoin="round" vector-effect="non-scaling-stroke">1000</text>
<text transform="translate(624.88,591.13) scale(0.3948,0.4239)" font-weight="bold" fill="#000" stroke="#000" stroke-width="0.9" stroke-linejoin="round" vector-effect="non-scaling-stroke">10000</text>
<text transform="translate(1122.56,591.13) scale(0.3988,0.4239)" font-weight="bold" fill="#000" stroke="#000" stroke-width="0.9" stroke-linejoin="round" vector-effect="non-scaling-stroke">100000</text>
<text transform="translate(654.04,652.45) scale(0.4871,0.5217)" font-weight="bold" fill="#000" stroke="#000" stroke-width="0.9" stroke-linejoin="round" vector-effect="non-scaling-stroke">M</text>
<text transform="translate(694.45,652.45) scale(0.3859,0.4717)" font-weight="bold" fill="#000" stroke="#000" stroke-width="0.9" stroke-linejoin="round" vector-effect="non-scaling-stroke">w</text>
<text transform="translate(1208.11,131.13) scale(0.3903,0.4239)" font-weight="bold" fill="#FF8000" stroke="#FF8000" stroke-width="0.9" stroke-linejoin="round" vector-effect="non-scaling-stroke">100</text>
<text transform="translate(1207.25,207.53) scale(0.3993,0.4239)" font-weight="bold" fill="#FF8000" stroke="#FF8000" stroke-width="0.9" stroke-linejoin="round" vector-effect="non-scaling-stroke">80</text>
<text transform="translate(1206.85,283.93) scale(0.3993,0.4239)" font-weight="bold" fill="#FF8000" stroke="#FF8000" stroke-width="0.9" stroke-linejoin="round" vector-effect="non-scaling-stroke">60</text>
<text transform="translate(1207.65,360.33) scale(0.3994,0.4239)" font-weight="bold" fill="#FF8000" stroke="#FF8000" stroke-width="0.9" stroke-linejoin="round" vector-effect="non-scaling-stroke">40</text>
<text transform="translate(1207.25,436.73) scale(0.3993,0.4239)" font-weight="bold" fill="#FF8000" stroke="#FF8000" stroke-width="0.9" stroke-linejoin="round" vector-effect="non-scaling-stroke">20</text>
<text transform="translate(1206.89,513.13) scale(0.3889,0.4239)" font-weight="bold" fill="#FF8000" stroke="#FF8000" stroke-width="0.9" stroke-linejoin="round" vector-effect="non-scaling-stroke">0</text>
<text transform="translate(1312.60,483.37) rotate(-90) scale(0.4809,0.4950)" font-weight="bold" fill="#FF8000" stroke="#FF8000" stroke-width="0.9" stroke-linejoin="round" vector-effect="non-scaling-stroke">Cumulative (%)</text>
<text transform="translate(84.63,752.11) scale(0.4038,0.4443)" font-weight="bold" fill="#000" stroke="#000" stroke-width="0.9" stroke-linejoin="round" vector-effect="non-scaling-stroke">1.5</text>
<text transform="translate(85.07,884.11) scale(0.3961,0.4380)" font-weight="bold" fill="#000" stroke="#000" stroke-width="0.9" stroke-linejoin="round" vector-effect="non-scaling-stroke">1.0</text>
<text transform="translate(84.43,1017.11) scale(0.4053,0.4380)" font-weight="bold" fill="#000" stroke="#000" stroke-width="0.9" stroke-linejoin="round" vector-effect="non-scaling-stroke">0.5</text>
<text transform="translate(84.86,1150.11) scale(0.3977,0.4380)" font-weight="bold" fill="#000" stroke="#000" stroke-width="0.9" stroke-linejoin="round" vector-effect="non-scaling-stroke">0.0</text>
<text transform="translate(66.90,1107.15) rotate(-90) scale(0.5994,0.6200)" font-weight="bold" fill="#000" stroke="#000" stroke-width="0.9" stroke-linejoin="round" vector-effect="non-scaling-stroke">dw / dlogM</text>
<text transform="translate(186.02,783.14) scale(0.4886,0.5081)" font-weight="bold" fill="#000" stroke="#000" stroke-width="0.9" stroke-linejoin="round" vector-effect="non-scaling-stroke">120 min</text>
<text transform="translate(189.39,870.85) scale(0.4702,0.5203)" font-weight="normal" fill="#000" stroke="#000" stroke-width="0.3" stroke-linejoin="round" vector-effect="non-scaling-stroke">Mn</text>
<text transform="translate(350.49,870.85) scale(0.4581,0.5203)" font-weight="normal" fill="#000" stroke="#000" stroke-width="0.3" stroke-linejoin="round" vector-effect="non-scaling-stroke">Mw</text>
<text transform="translate(228.20,935.24) scale(0.4636,0.5085)" font-weight="normal" fill="#000" stroke="#000" stroke-width="0.3" stroke-linejoin="round" vector-effect="non-scaling-stroke">5506</text>
<text transform="translate(367.48,935.24) scale(0.4717,0.5085)" font-weight="normal" fill="#000" stroke="#000" stroke-width="0.3" stroke-linejoin="round" vector-effect="non-scaling-stroke">11848</text>
<text transform="translate(114.52,1246.11) scale(0.4057,0.4380)" font-weight="bold" fill="#000" stroke="#000" stroke-width="0.9" stroke-linejoin="round" vector-effect="non-scaling-stroke">1000</text>
<text transform="translate(624.39,1246.11) scale(0.4108,0.4380)" font-weight="bold" fill="#000" stroke="#000" stroke-width="0.9" stroke-linejoin="round" vector-effect="non-scaling-stroke">10000</text>
<text transform="translate(1135.70,1246.11) scale(0.4077,0.4380)" font-weight="bold" fill="#000" stroke="#000" stroke-width="0.9" stroke-linejoin="round" vector-effect="non-scaling-stroke">100000</text>
<text transform="translate(644.04,1305.35) scale(0.4871,0.5493)" font-weight="bold" fill="#000" stroke="#000" stroke-width="0.9" stroke-linejoin="round" vector-effect="non-scaling-stroke">M</text>
<text transform="translate(685.45,1305.35) scale(0.3872,0.4887)" font-weight="bold" fill="#000" stroke="#000" stroke-width="0.9" stroke-linejoin="round" vector-effect="non-scaling-stroke">w</text>
<text transform="translate(1223.03,765.11) scale(0.4033,0.4380)" font-weight="bold" fill="#FF8000" stroke="#FF8000" stroke-width="0.9" stroke-linejoin="round" vector-effect="non-scaling-stroke">100</text>
<text transform="translate(1223.25,844.71) scale(0.4003,0.4380)" font-weight="bold" fill="#FF8000" stroke="#FF8000" stroke-width="0.9" stroke-linejoin="round" vector-effect="non-scaling-stroke">80</text>
<text transform="translate(1222.85,924.31) scale(0.4003,0.4380)" font-weight="bold" fill="#FF8000" stroke="#FF8000" stroke-width="0.9" stroke-linejoin="round" vector-effect="non-scaling-stroke">60</text>
<text transform="translate(1223.65,1003.91) scale(0.4004,0.4380)" font-weight="bold" fill="#FF8000" stroke="#FF8000" stroke-width="0.9" stroke-linejoin="round" vector-effect="non-scaling-stroke">40</text>
<text transform="translate(1223.25,1083.51) scale(0.4003,0.4380)" font-weight="bold" fill="#FF8000" stroke="#FF8000" stroke-width="0.9" stroke-linejoin="round" vector-effect="non-scaling-stroke">20</text>
<text transform="translate(1222.89,1163.11) scale(0.3899,0.4380)" font-weight="bold" fill="#FF8000" stroke="#FF8000" stroke-width="0.9" stroke-linejoin="round" vector-effect="non-scaling-stroke">0</text>
<text transform="translate(1328.60,1158.68) rotate(-90) scale(0.5317,0.5300)" font-weight="bold" fill="#FF8000" stroke="#FF8000" stroke-width="0.9" stroke-linejoin="round" vector-effect="non-scaling-stroke">Cumulative (%)</text>
</svg></body></html>
